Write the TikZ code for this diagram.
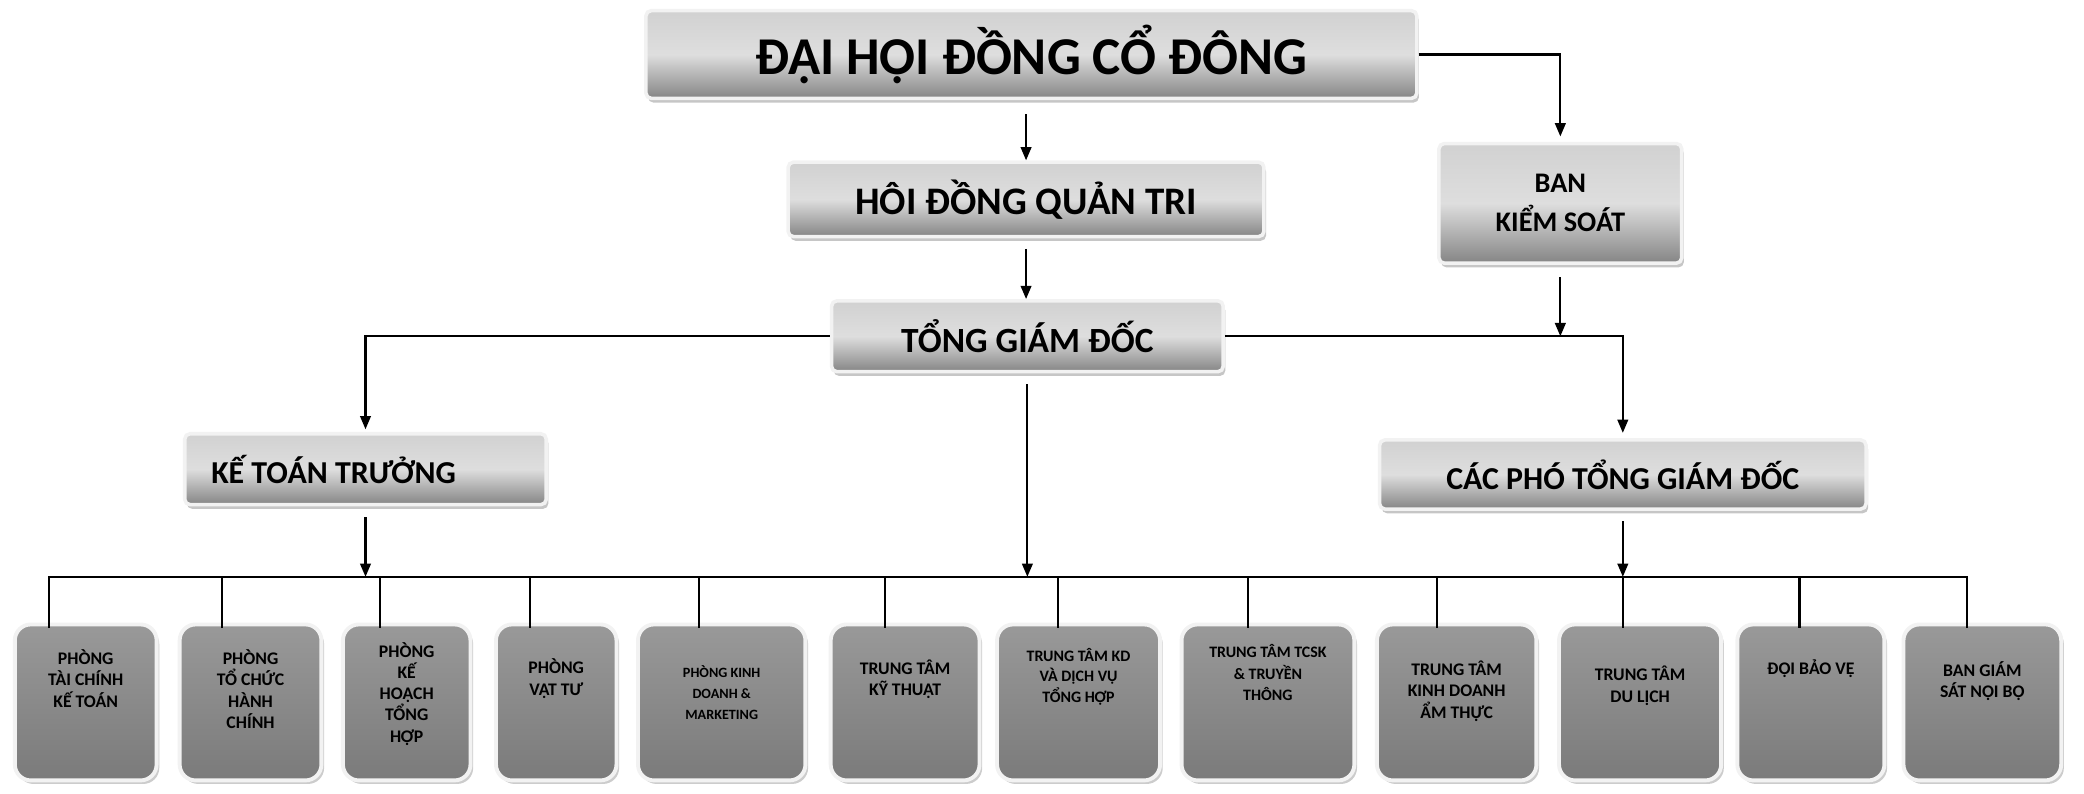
\documentclass[tikz,border=0pt]{standalone}
\usepackage{fontspec}
\setmainfont{Carlito}
\usetikzlibrary{arrows.meta,shadows}

\tikzset{every picture/.style={line width=0.75pt}}
\tikzset{
  headbox/.style={rounded corners=3pt, draw=black!5, line width=2pt, top color=black!18, bottom color=black!48, middle color=black!13, drop shadow={shadow xshift=1.2pt, shadow yshift=-2.4pt, opacity=0.45}, inner sep=0pt},
  unitbox/.style={rounded corners=9pt, draw=black!5, line width=2.2pt, top color=black!40, bottom color=black!52, drop shadow={shadow xshift=1.5pt, shadow yshift=-2pt, opacity=0.4}, minimum height=88pt, inner sep=0pt},
  unittxt/.style={align=center, inner sep=0.75pt, font=\bfseries\fontsize{10}{12}\selectfont},
  link/.style={line width=1.2pt, -{Triangle[length=7.5pt,width=6pt]}},
  tie/.style={line width=1.2pt}
}

\begin{document}
\begin{tikzpicture}[x=0.75pt,y=0.75pt,yscale=-1,xscale=1]
\useasboundingbox (0,0) rectangle (1568,597);

%Rounded Rect
\node[headbox, minimum width=435pt, minimum height=49.5pt, font=\bfseries\fontsize{30}{36}\selectfont] (dhcd) at (776,41) {ĐẠI HỘI ĐỒNG CỔ ĐÔNG};
%Rounded Rect
\node[headbox, minimum width=268.5pt, minimum height=42pt, font=\bfseries\fontsize{22}{26}\selectfont] (hdqt) at (772,150) {HÔI ĐỒNG QUẢN TRI};
%Rounded Rect
\node[headbox, minimum width=221pt, minimum height=40pt, font=\bfseries\fontsize{20}{24}\selectfont] (tgd) at (773,253) {TỔNG GIÁM ĐỐC};
%Rounded Rect
\node[headbox, minimum width=137pt, minimum height=67.5pt, align=center, font=\bfseries\fontsize{16}{22}\selectfont] (bks) at (1174,153) {BAN\\KIỂM SOÁT};
%Rounded Rect
\node[headbox, minimum width=204pt, minimum height=40pt, font=\bfseries\fontsize{18}{22}\selectfont] (ktt) at (275,353) {KẾ TOÁN TRƯỞNG\hspace*{36pt}};
%Rounded Rect
\node[headbox, minimum width=274.5pt, minimum height=39pt, font=\bfseries\fontsize{18}{22}\selectfont] (cptgd) at (1221,357) {CÁC PHÓ TỔNG GIÁM ĐỐC};

%Rounded Rect
\node[unitbox, minimum width=80pt] (b1) at (64.5,528.5) {};
%Rounded Rect
\node[unitbox, minimum width=80pt] (b2) at (188.5,528.5) {};
%Rounded Rect
\node[unitbox, minimum width=72pt] (b3) at (306,528.5) {};
%Rounded Rect
\node[unitbox, minimum width=68pt] (b4) at (418.5,528.5) {};
%Rounded Rect
\node[unitbox, minimum width=94.5pt] (b5) at (543,528.5) {};
%Rounded Rect
\node[unitbox, minimum width=84pt] (b6) at (681,528.5) {};
%Rounded Rect
\node[unitbox, minimum width=92pt] (b7) at (811.5,528.5) {};
%Rounded Rect
\node[unitbox, minimum width=97.5pt] (b8) at (954,528.5) {};
%Rounded Rect
\node[unitbox, minimum width=90pt] (b9) at (1096,528.5) {};
%Rounded Rect
\node[unitbox, minimum width=91.5pt] (b10) at (1234,528.5) {};
%Rounded Rect
\node[unitbox, minimum width=83pt] (b11) at (1362.5,528.5) {};
%Rounded Rect
\node[unitbox, minimum width=89pt] (b12) at (1491.5,528.5) {};

% Text Node
\node[unittxt] (t1) at (64.5,510.5) {PHÒNG\\TÀI CHÍNH\\KẾ TOÁN};
% Text Node
\node[unittxt] (t2) at (188.5,518.5) {PHÒNG\\TỔ CHỨC\\HÀNH\\CHÍNH};
% Text Node
\node[unittxt] (t3) at (306,522) {PHÒNG\\KẾ\\HOẠCH\\TỔNG\\HỢP};
% Text Node
\node[unittxt] (t4) at (418.5,510.5) {PHÒNG\\VẬT TƯ};
% Text Node
\node[unittxt, font=\bfseries\fontsize{8}{12}\selectfont] (t5) at (543,521) {PHÒNG KINH\\DOANH \&\\MARKETING};
% Text Node
\node[unittxt] (t6) at (681,511) {TRUNG TÂM\\KỸ THUẬT};
% Text Node
\node[unittxt, font=\bfseries\fontsize{9}{11.5}\selectfont] (t7) at (811.5,509) {TRUNG TÂM KD\\VÀ DỊCH VỤ\\TỔNG HỢP};
% Text Node
\node[unittxt, font=\bfseries\fontsize{9}{12}\selectfont] (t8) at (954,506) {TRUNG TÂM TCSK\\\& TRUYỀN\\THÔNG};
% Text Node
\node[unittxt] (t9) at (1096,520) {TRUNG TÂM\\KINH DOANH\\ẨM THỰC};
% Text Node
\node[unittxt] (t10) at (1234,516) {TRUNG TÂM\\DU LỊCH};
% Text Node
\node[unittxt] (t11) at (1362.5,503) {ĐỘI BẢO VỆ};
% Text Node
\node[unittxt] (t12) at (1491.5,512.5) {BAN GIÁM\\SÁT NỘI BỘ};

%Straight Lines
\draw[link, shorten <=8pt] (dhcd.south -| hdqt.north) -- (hdqt.north);
\draw[link, shorten <=6pt] (hdqt.south) -- (hdqt.south |- tgd.north);
\draw[link, shorten >=3pt] (dhcd.east) -| (bks.north);
\draw[link, shorten <=7pt] (bks.south) -- (bks.south |- tgd.east);
\draw[link, shorten >=3pt] (tgd.east) -| (cptgd.north);
\draw[link, shorten >=1.5pt] (tgd.west) -| (ktt.north);

%Bus line and drops
\coordinate (bus) at (770,434);
\coordinate (d1) at ([xshift=-20.6pt,yshift=3pt]b1.north);
\coordinate (d2) at ([xshift=-16.1pt,yshift=3pt]b2.north);
\coordinate (d3) at ([xshift=-15pt,yshift=3pt]b3.north);
\coordinate (d4) at ([xshift=-14.6pt,yshift=3pt]b4.north);
\coordinate (d5) at ([xshift=-12.75pt,yshift=3pt]b5.north);
\coordinate (d6) at ([xshift=-11.25pt,yshift=3pt]b6.north);
\coordinate (d7) at ([xshift=-11.6pt,yshift=3pt]b7.north);
\coordinate (d8) at ([xshift=-11.25pt,yshift=3pt]b8.north);
\coordinate (d9) at ([xshift=-11.25pt,yshift=3pt]b9.north);
\coordinate (d10) at ([xshift=-9.75pt,yshift=3pt]b10.north);
\coordinate (d11) at ([xshift=-6.4pt,yshift=3pt]b11.north);
\coordinate (d12) at ([xshift=-8.6pt,yshift=3pt]b12.north);
\draw[tie] (d1) |- (d12 |- bus) -- (d12);
\draw[tie] (d2 |- bus) -- (d2);
\draw[tie] (d3 |- bus) -- (d3);
\draw[tie] (d4 |- bus) -- (d4);
\draw[tie] (d5 |- bus) -- (d5);
\draw[tie] (d6 |- bus) -- (d6);
\draw[tie] (d7 |- bus) -- (d7);
\draw[tie] (d8 |- bus) -- (d8);
\draw[tie] (d9 |- bus) -- (d9);
\draw[tie] (d10 |- bus) -- (d10);
\draw[tie] (d11 |- bus) -- (d11);

\draw[link, shorten <=6pt] (tgd.south) -- (tgd.south |- bus);
\draw[link, shorten <=6pt] (ktt.south) -- (ktt.south |- bus);
\draw[link, shorten <=6pt] (cptgd.south) -- (cptgd.south |- bus);

\end{tikzpicture}
\end{document}
